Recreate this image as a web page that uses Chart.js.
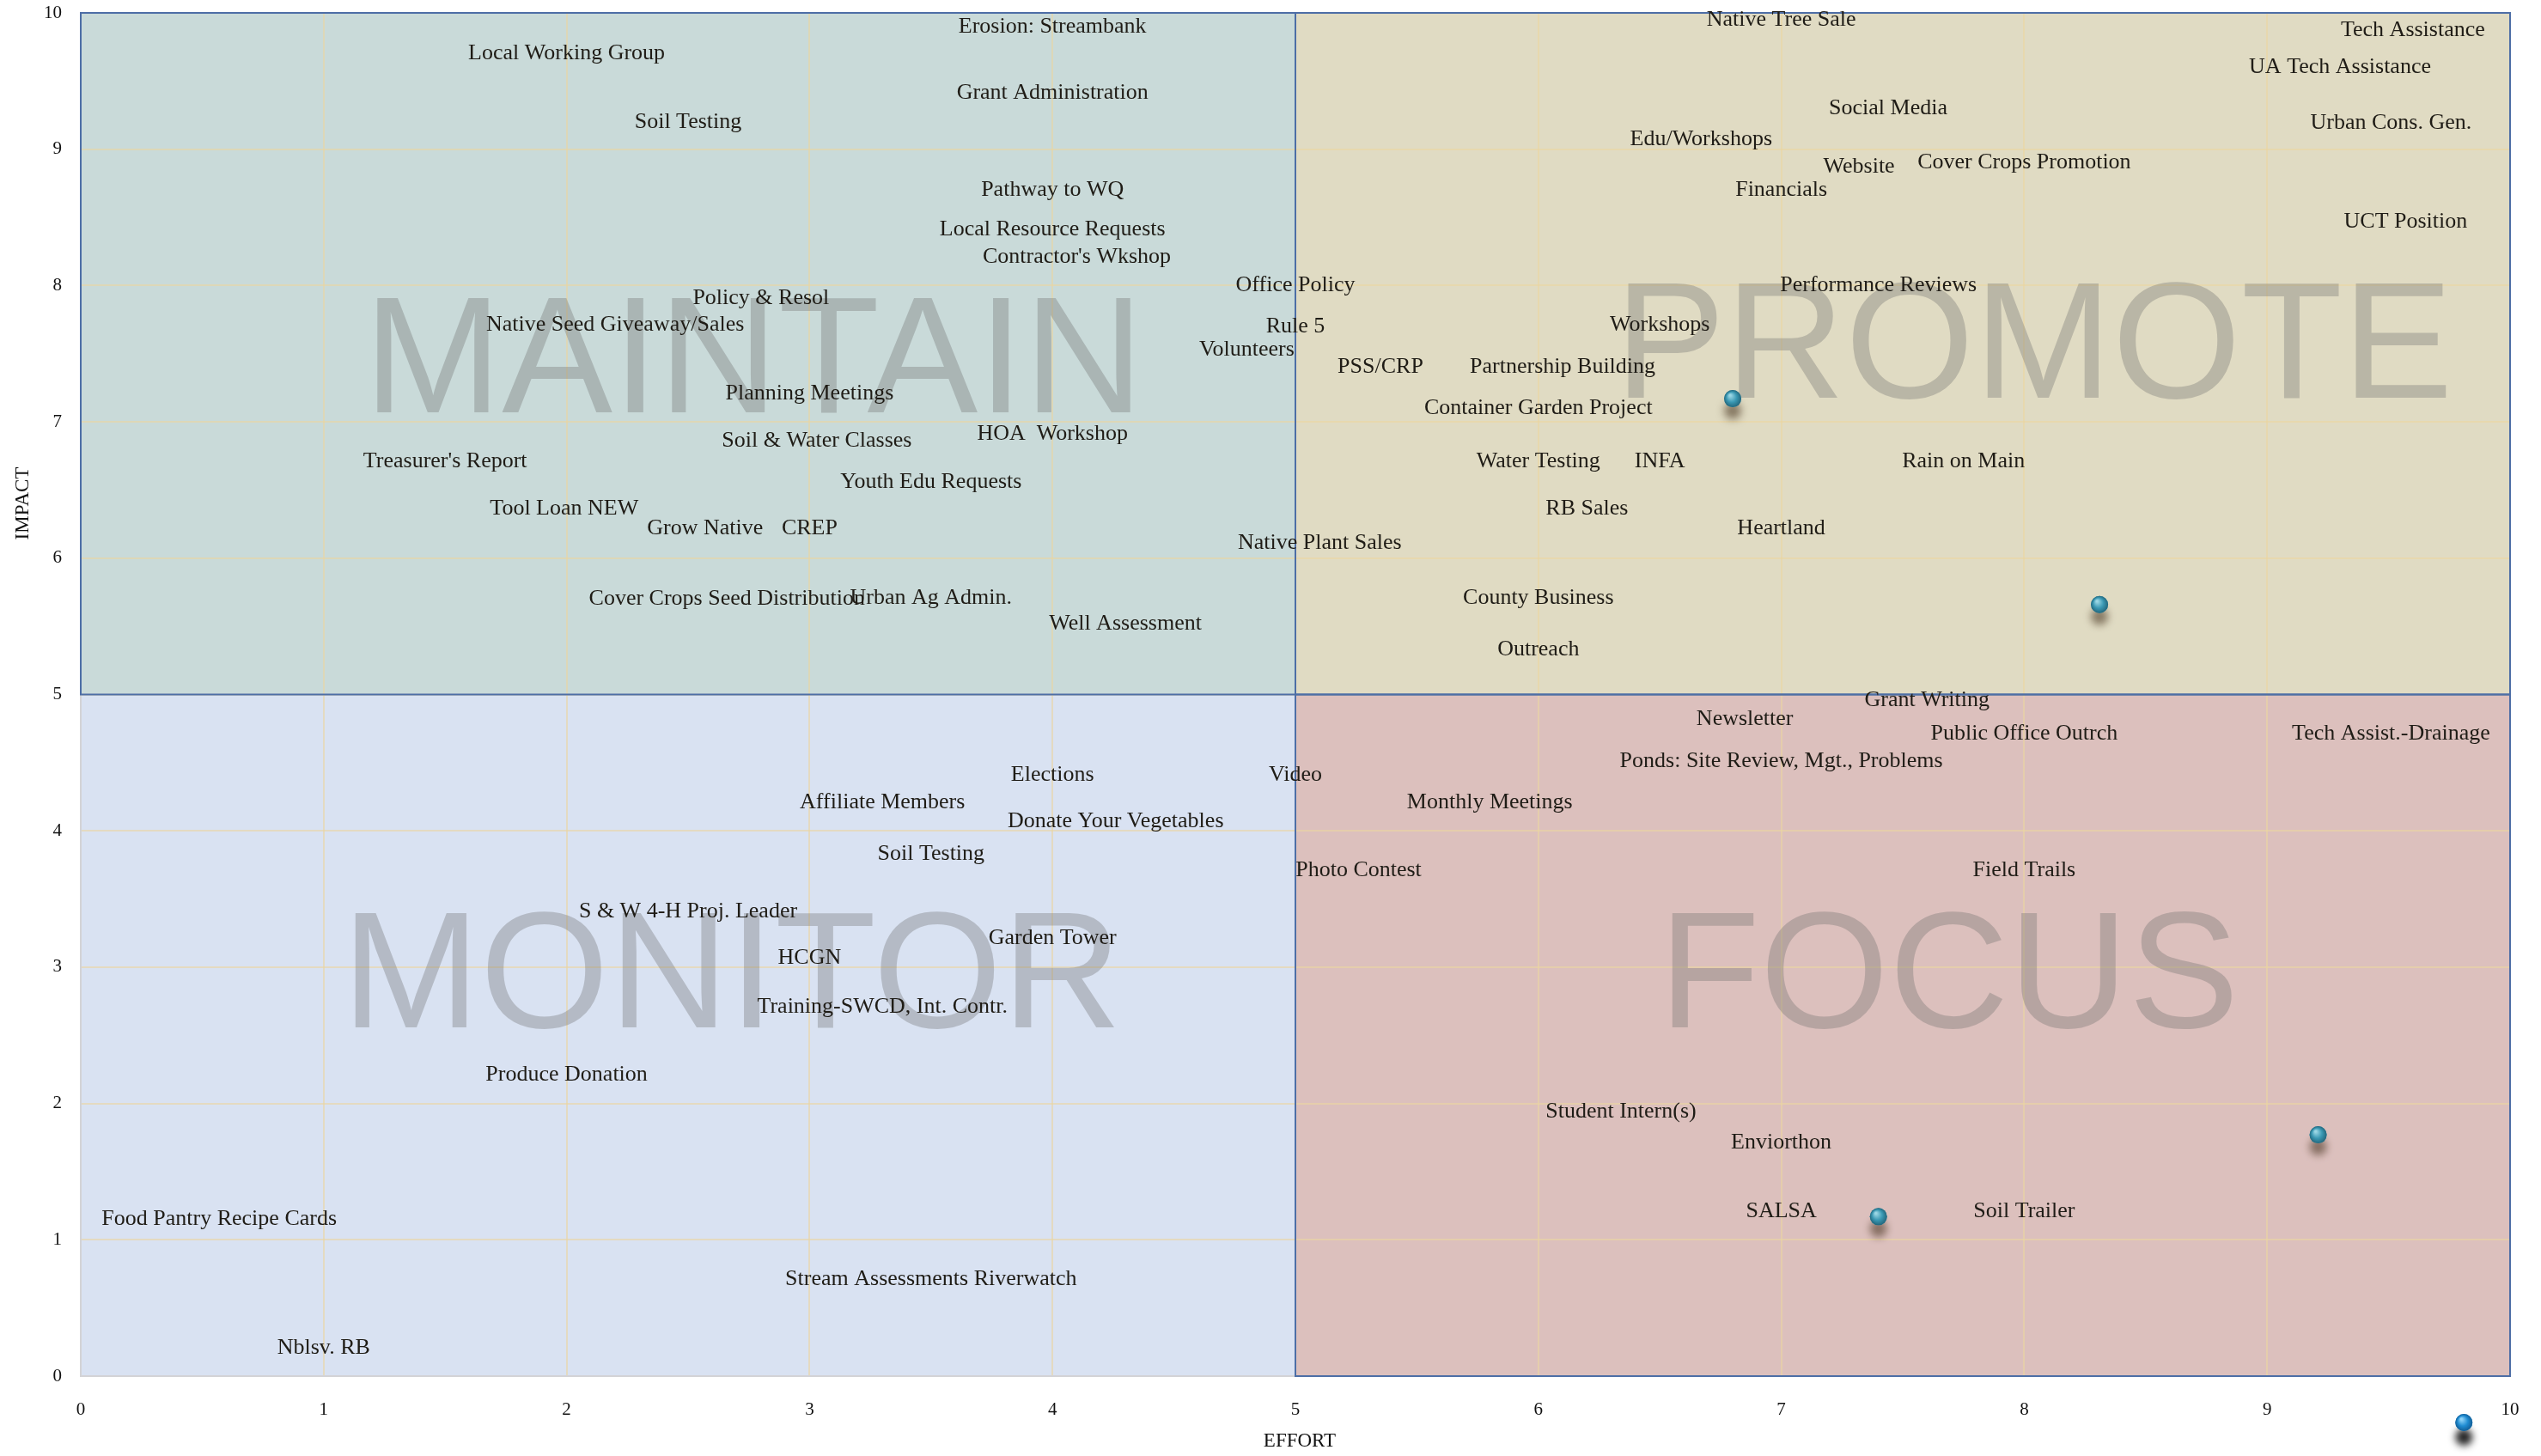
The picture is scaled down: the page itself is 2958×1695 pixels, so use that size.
<!DOCTYPE html>
<html>
<head>
<meta charset="utf-8">
<script src="https://cdn.jsdelivr.net/npm/chart.js@4.4.1/dist/chart.umd.min.js"></script>
<style>
html,body{margin:0;padding:0;background:#ffffff;}
#wrap{width:2958px;height:1695px;position:relative;}
</style>
</head>
<body>
<div id="wrap"><canvas id="c" width="2958" height="1695"></canvas></div>
<script>
// ---- data ----
const activities = [
  "Erosion: Streambank","Local Working Group","Grant Administration","Soil Testing","Pathway to WQ",
  "Local Resource Requests","Contractor's Wkshop","Office Policy","Policy & Resol","Native Seed Giveaway/Sales",
  "Rule 5","Volunteers","PSS/CRP","Partnership Building","Planning Meetings",
  "Container Garden Project","Treasurer's Report","Soil & Water Classes","HOA  Workshop","Youth Edu Requests",
  "Tool Loan NEW","Grow Native","CREP","Native Plant Sales","Cover Crops Seed Distribution",
  "Urban Ag Admin.","Well Assessment","Native Tree Sale","Tech Assistance","UA Tech Assistance",
  "Social Media","Urban Cons. Gen.","Edu/Workshops","Website","Cover Crops Promotion",
  "Financials","UCT Position","Performance Reviews","Workshops","Water Testing",
  "INFA","Rain on Main","RB Sales","Heartland","County Business",
  "Outreach","Grant Writing","Newsletter","Public Office Outrch","Tech Assist.-Drainage",
  "Ponds: Site Review, Mgt., Problems","Video","Monthly Meetings","Photo Contest","Field Trails",
  "Student Intern(s)","Enviorthon","SALSA","Soil Trailer","Elections",
  "Affiliate Members","Donate Your Vegetables","Soil Testing","S & W 4-H Proj. Leader","Garden Tower",
  "HCGN","Training-SWCD, Int. Contr.","Produce Donation","Food Pantry Recipe Cards","Stream Assessments Riverwatch",
  "Nblsv. RB"
];
const effort = [
  4.0,2.0,4.0,2.5,4.0,
  4.0,4.1,5.0,2.8,2.2,
  5.0,4.8,5.35,6.1,3.0,
  6.0,1.5,3.03,4.0,3.5,
  1.99,2.57,3.0,5.1,2.66,
  3.5,4.3,7.0,9.6,9.3,
  7.44,9.51,6.67,7.32,8.0,
  7.0,9.57,7.4,6.5,6.0,
  6.5,7.75,6.2,7.0,6.0,
  6.0,7.6,6.85,8.0,9.51,
  7.0,5.0,5.8,5.26,8.0,
  6.34,7.0,7.0,8.0,4.0,
  3.3,4.26,3.5,2.5,4.0,
  3.0,3.3,2.0,0.57,3.5,
  1.0
];
const impact = [
  9.9,9.7,9.41,9.2,8.7,
  8.41,8.21,8.0,7.91,7.71,
  7.7,7.53,7.4,7.4,7.21,
  7.1,6.71,6.86,6.91,6.56,
  6.36,6.22,6.22,6.11,5.7,
  5.71,5.52,9.95,9.87,9.6,
  9.3,9.19,9.07,8.87,8.9,
  8.7,8.47,8.0,7.71,6.71,
  6.71,6.71,6.36,6.22,5.71,
  5.33,4.96,4.82,4.71,4.71,
  4.51,4.41,4.21,3.71,3.71,
  1.94,1.71,1.21,1.21,4.41,
  4.21,4.07,3.83,3.41,3.21,
  3.07,2.71,2.21,1.15,0.71,
  0.21
];
// unlabeled markers
const markerEffort = [6.8, 8.31, 9.21, 7.4, 9.81];
const markerImpact = [7.17, 5.66, 1.77, 1.17, -0.34];
// quadrant captions (data-space anchor: centre x, baseline y)
const quadNames = ["MAINTAIN","PROMOTE","MONITOR","FOCUS"];
const quadNameX = [2.77, 8.04, 2.68, 7.69];
const quadNameY = [7.07, 7.18, 2.56, 2.56];
// axes
const xTicks = [0,1,2,3,4,5,6,7,8,9,10];
const yTicks = [0,1,2,3,4,5,6,7,8,9,10];
const xTitle = "EFFORT";
const yTitle = "IMPACT";

const serif = "'Liberation Serif', 'DejaVu Serif', serif";

const quadrantPlugin = {
  id: 'quadrants',
  beforeDraw(chart){
    const {ctx, scales:{x,y}} = chart;
    const x0=x.getPixelForValue(0), x5=x.getPixelForValue(5), x10=x.getPixelForValue(10);
    const y0=y.getPixelForValue(0), y5=y.getPixelForValue(5), y10=y.getPixelForValue(10);
    ctx.save();
    ctx.fillStyle='#c9dad9'; ctx.fillRect(x0,y10,x5-x0,y5-y10);
    ctx.fillStyle='#e0dbc3'; ctx.fillRect(x5,y10,x10-x5,y5-y10);
    ctx.fillStyle='#d9e2f2'; ctx.fillRect(x0,y5,x5-x0,y0-y5);
    ctx.fillStyle='#dcc0bd'; ctx.fillRect(x5,y5,x10-x5,y0-y5);
    ctx.restore();
  },
  beforeDatasetsDraw(chart){
    const {ctx, scales:{x,y}} = chart;
    const x0=x.getPixelForValue(0), x5=x.getPixelForValue(5), x10=x.getPixelForValue(10);
    const y0=y.getPixelForValue(0), y5=y.getPixelForValue(5), y10=y.getPixelForValue(10);
    ctx.save();
    // borders
    ctx.lineWidth=2;
    ctx.strokeStyle='#d3d3d6';
    ctx.strokeRect(x0,y5,x5-x0,y0-y5);
    ctx.strokeStyle='#4d6ea6';
    ctx.strokeRect(x0,y10,x5-x0,y5-y10);
    ctx.strokeRect(x5,y10,x10-x5,y5-y10);
    ctx.strokeRect(x5,y5,x10-x5,y0-y5);
    // captions
    ctx.font = "193px 'Liberation Sans', Arial, sans-serif";
    ctx.fillStyle='rgba(105,105,105,0.33)';
    ctx.textAlign='center'; ctx.textBaseline='alphabetic';
    quadNames.forEach((n,i)=>{
      ctx.fillText(n, x.getPixelForValue(quadNameX[i]), y.getPixelForValue(quadNameY[i]));
    });
    ctx.restore();
  },
  afterDatasetsDraw(chart){
    const {ctx} = chart;
    ctx.save();
    // text labels
    const meta0 = chart.getDatasetMeta(0);
    ctx.font = "26px " + serif;
    ctx.fillStyle = '#1f1c16';
    ctx.textAlign='center'; ctx.textBaseline='middle';
    meta0.data.forEach((pt,i)=>{
      ctx.fillText(activities[i], pt.x, pt.y);
    });
    // spheres
    const meta1 = chart.getDatasetMeta(1);
    meta1.data.forEach((pt,i)=>{
      const outside = pt.y > chart.chartArea.bottom;
      const r = 10;
      const base = outside ? '#1f8cd2' : '#3a98b3';
      const light = outside ? '#8fd3f7' : '#9ad6e4';
      const dark = outside ? '#135e96' : '#24677c';
      ctx.save();
      ctx.shadowColor = outside ? 'rgba(0,0,0,0.85)' : 'rgba(60,40,20,0.55)';
      ctx.shadowBlur = outside ? 8 : 10;
      ctx.shadowOffsetY = outside ? 17 : 14;
      ctx.beginPath(); ctx.arc(pt.x, pt.y, r, 0, Math.PI*2);
      ctx.fillStyle = base; ctx.fill();
      ctx.restore();
      const g = ctx.createRadialGradient(pt.x-3, pt.y-4, 1, pt.x, pt.y, r);
      g.addColorStop(0, light);
      g.addColorStop(0.55, base);
      g.addColorStop(1, dark);
      ctx.beginPath(); ctx.arc(pt.x, pt.y, r, 0, Math.PI*2);
      ctx.fillStyle = g; ctx.fill();
    });
    ctx.restore();
  },
  afterDraw(chart){
    const {ctx, scales:{x,y}} = chart;
    ctx.save();
    ctx.font = "23px " + serif;
    ctx.fillStyle = '#111';
    ctx.textAlign='center'; ctx.textBaseline='middle';
    ctx.fillText(xTitle, (x.left+x.right)/2 + 5, 1678);
    ctx.translate(27, 586);
    ctx.rotate(-Math.PI/2);
    ctx.fillText(yTitle, 0, 0);
    ctx.restore();
  }
};

const ctx = document.getElementById('c').getContext('2d');
new Chart(ctx, {
  type: 'scatter',
  data: {
    datasets: [
      { label: 'Activities', data: effort.map((v,i)=>({x:v, y:impact[i]})), pointRadius: 0, pointHoverRadius: 0 },
      { label: 'Markers', data: markerEffort.map((v,i)=>({x:v, y:markerImpact[i]})), pointRadius: 0, pointHoverRadius: 0, clip: false }
    ]
  },
  options: {
    responsive: false,
    animation: false,
    events: [],
    layout: { padding: { top: 15, right: 36, left: 0, bottom: 0 } },
    plugins: { legend: { display: false }, tooltip: { enabled: false } },
    scales: {
      x: {
        type: 'linear', min: 0, max: 10,
        afterFit(s){ s.height = 93; s.paddingLeft = 0; s.paddingRight = 0; },
        afterBuildTicks(s){ s.ticks = xTicks.map(v=>({value:v})); },
        border: { display: false },
        grid: { color: 'rgba(235,214,160,0.6)', lineWidth: 2, drawTicks: false },
        ticks: { padding: 27, color: '#111', font: { family: serif, size: 21 } }
      },
      y: {
        type: 'linear', min: 0, max: 10,
        afterFit(s){ s.width = 94; s.paddingTop = 0; s.paddingBottom = 0; },
        afterBuildTicks(s){ s.ticks = yTicks.map(v=>({value:v})); },
        border: { display: false },
        grid: { color: 'rgba(235,214,160,0.6)', lineWidth: 2, drawTicks: false },
        ticks: { padding: 22, color: '#111', font: { family: serif, size: 21 } }
      }
    }
  },
  plugins: [quadrantPlugin]
});
</script>
</body>
</html>
